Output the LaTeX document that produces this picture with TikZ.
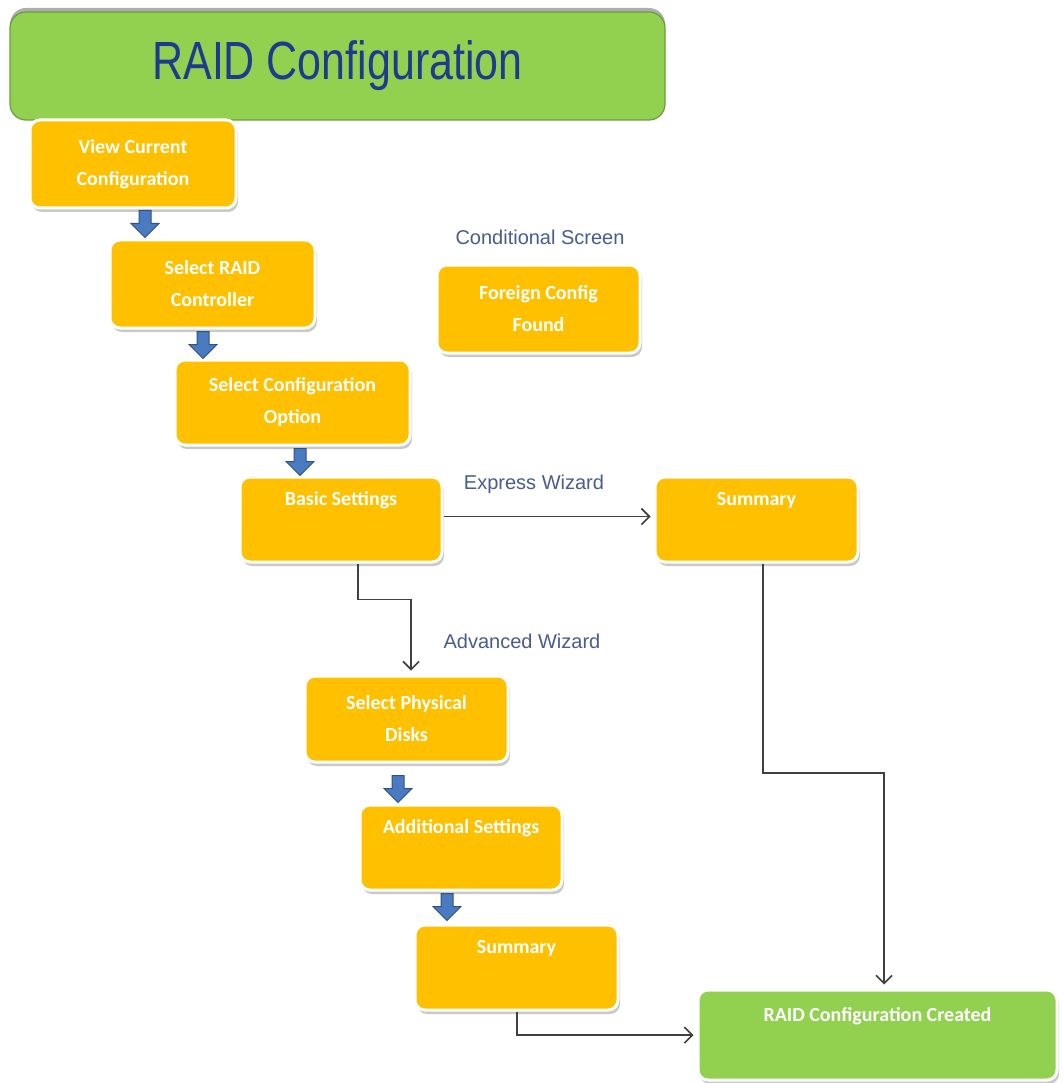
\documentclass[tikz,border=0pt]{standalone}
\usepackage{fontspec}
\usetikzlibrary{shadows,arrows.meta}
\newfontfamily\boxfont{Carlito}
\newfontfamily\arialfont{Liberation Sans}
\definecolor{boxorange}{HTML}{FFC000}
\definecolor{boxgreen}{HTML}{92D050}
\definecolor{greenedge}{HTML}{6A9E3A}
\definecolor{titleblue}{HTML}{1F3A8F}
\definecolor{labelblue}{HTML}{4A5C8C}
\definecolor{barrow}{HTML}{4A7BC0}
\definecolor{barrowd}{HTML}{2F5286}
\definecolor{conn}{HTML}{404040}
\tikzset{
  stepbox/.style={rectangle, rounded corners=10pt, fill=boxorange, draw=white, line width=3pt,
    drop shadow={shadow xshift=2pt, shadow yshift=-4pt, fill=black!35, opacity=0.6},
    text=white, font=\boxfont\bfseries\fontsize{20}{32}\selectfont, align=center},
  greenbox/.style={stepbox, fill=boxgreen},
  lbl/.style={text=labelblue, font=\arialfont\fontsize{20}{24}\selectfont},
  connector/.style={draw=conn, line width=1.6pt, -{Straight Barb[length=8pt,width=16pt,line width=1.6pt]}},
  bdown/.pic={\draw[fill=barrow, draw=barrowd, line width=1pt]
     (-6,0) -- (6,0) -- (6,-13) -- (14,-13) -- (0,-27) -- (-14,-13) -- (-6,-13) -- cycle;}
}
\begin{document}
\begin{tikzpicture}[x=1pt,y=1pt]
\useasboundingbox[fill=white] (0,0) rectangle (1062,-1083);

% title
\node[rectangle, rounded corners=16pt, fill=boxgreen, draw=greenedge, line width=1.2pt,
  minimum width=655pt, minimum height=108pt,
  drop shadow={shadow xshift=0pt, shadow yshift=4pt, fill=black!45, opacity=0.7},
  text=titleblue, font=\arialfont\fontsize{43}{50}\selectfont] (title) at (337.5,-66) {\raisebox{-3pt}{\scalebox{1}[1.25]{RAID Configuration}}};

% step boxes
\node[stepbox, minimum width=206pt, minimum height=88pt] (view) at (133,-164) {View Current\\Configuration};
\node[stepbox, minimum width=205pt, minimum height=88pt] (selraid) at (212.5,-284) {Select RAID\\Controller};
\node[stepbox, minimum width=235pt, minimum height=85pt] (selconf) at (292.5,-402.5) {Select Configuration\\Option};
\node[stepbox, minimum width=202pt, minimum height=85pt] (basic) at (341,-519.5) {Basic Settings\\\strut};
\node[stepbox, minimum width=203pt, minimum height=88pt] (foreign) at (538.5,-309) {Foreign Config\\Found};
\node[stepbox, minimum width=203pt, minimum height=85pt] (sumone) at (756.5,-519.5) {Summary\\\strut};
\node[stepbox, minimum width=203pt, minimum height=86pt] (disks) at (406.5,-719) {Select Physical\\Disks};
\node[stepbox, minimum width=202pt, minimum height=85pt] (addl) at (461,-847.5) {Additional Settings\\\strut};
\node[stepbox, minimum width=203pt, minimum height=85pt] (sumtwo) at (516.5,-967.5) {Summary\\\strut};
\node[greenbox, minimum width=359pt, minimum height=90pt] (created) at (877.5,-1035) {RAID Configuration Created\\\strut};

% labels
\node[lbl] (condlbl) at (540,-237) {Conditional Screen};
\node[lbl] (explbl) at (534,-484) {Express Wizard};
\node[lbl] (advlbl) at (522,-641) {Advanced Wizard};

% block arrows
\pic at ([yshift=-1pt]view.south -| 145,0) {bdown};
\pic at ([yshift=-2pt]selraid.south -| 203,0) {bdown};
\pic at ([yshift=-2pt]selconf.south -| 300,0) {bdown};
\pic at ([yshift=-12pt]disks.south -| 398,0) {bdown};
\pic at ([yshift=-2pt]addl.south -| 447,0) {bdown};

% connectors
\draw[connector, shorten >=3pt] ([yshift=3pt]basic.east) -- ([yshift=3pt]sumone.west);
\draw[connector, shorten >=4pt] (basic.south -| 358,0) -- ++(0,-36) -| (disks.north -| 411,0);
\draw[connector, shorten >=4pt] (sumone.south -| 763,0) -- (763,-773) -| (created.north -| 884,0);
\draw[connector, shorten >=3pt] (sumtwo.south -| 517,0) |- (created.west);
\end{tikzpicture}
\end{document}
